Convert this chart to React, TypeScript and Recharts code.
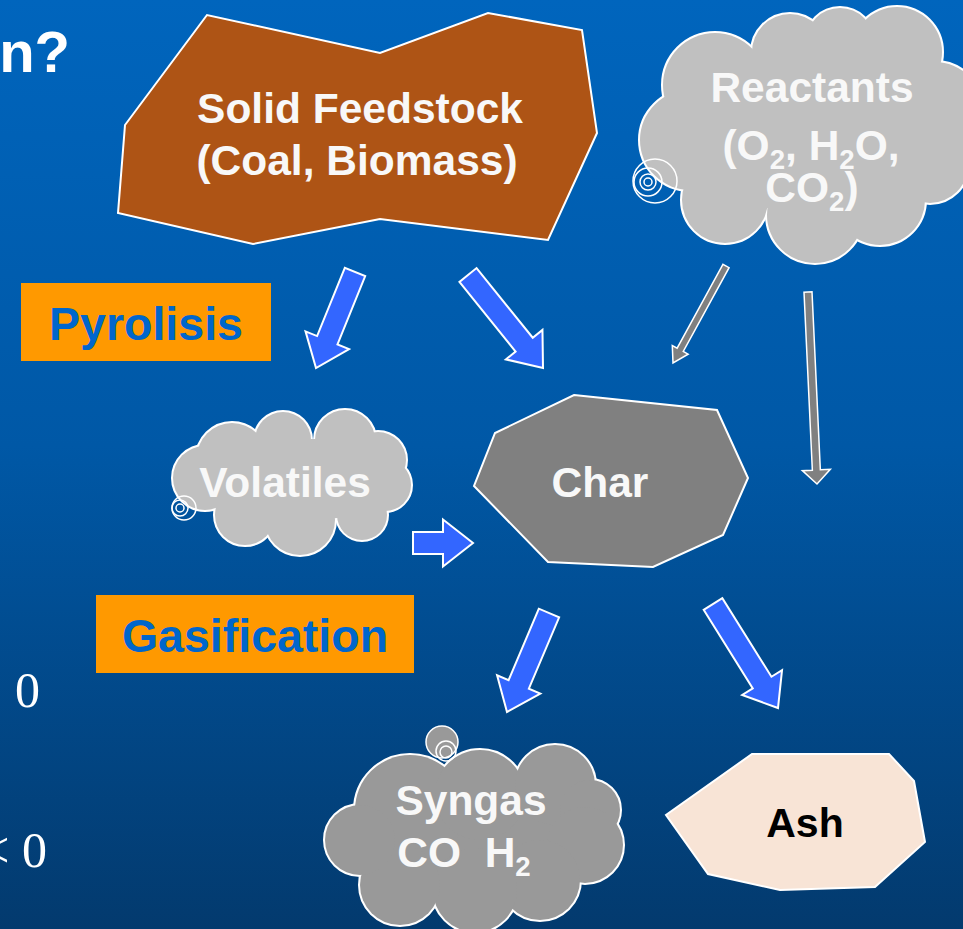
import React from "react";
import { ScatterChart, Scatter, XAxis, YAxis, ReferenceArea } from "recharts";

const W = 963;
const H = 929;
const SANS = "'Liberation Sans', Arial, Helvetica, sans-serif";
const SERIF = "'Liberation Serif', 'Times New Roman', serif";

// outlines of the flat nodes, in picture units
const feedstockOutline = [[207, 15], [125, 125], [118, 213], [253, 244], [380, 219], [548, 240], [597, 133], [582, 30], [488, 13], [380, 53]];
const charOutline = [[574, 395], [717, 410], [748, 478], [723, 535], [653, 567], [548, 562], [474, 486], [495, 433]];
const ashOutline = [[752, 754], [889, 754], [914, 781], [925, 842], [875, 887], [780, 890], [708, 874], [666, 815]];

// clouds as a ring of bumps: x, y, r (listed round the rim)
const reactantsCloud = [[690, 140, 50], [715, 85, 52], [790, 52, 38], [840, 42, 34], [897, 52, 45], [935, 110, 48], [930, 165, 38], [880, 200, 45], [815, 215, 48], [725, 200, 43]];
const volatilesCloud = [[232, 458, 35], [283, 440, 28], [345, 440, 30], [378, 460, 28], [385, 485, 26], [362, 515, 25], [300, 520, 35], [245, 515, 30], [205, 478, 32]];
const syngasCloud = [[410, 810, 55], [480, 795, 45], [555, 785, 40], [590, 810, 30], [585, 845, 38], [540, 880, 40], [475, 890, 42], [400, 885, 40], [360, 840, 35]];

const reactantsBubbles = [[655, 181, 22], [648, 182, 14], [648, 182, 8], [648, 182, 4]];
const volatilesBubbles = [[184, 508, 12], [180, 508, 8], [180, 508, 4]];
const syngasBubbles = [[442, 742, 16], [446, 751, 10], [446, 752, 6]];

// arrows: tail -> tip
const blueArrows = [
  [[355, 272], [316, 368]],
  [[468, 275], [543, 368]],
  [[413, 543], [473, 543]],
  [[549, 613], [507, 712]],
  [[713, 604], [778, 708]],
];
const grayArrows = [
  [[726, 266], [673, 363]],
  [[808, 292], [817, 484]],
];

const stageBoxes = [
  [21, 283, 271, 361],
  [96, 595, 414, 673],
];

// labels: x, baseline y, text ("_2" = subscript)
const nodeLabels = [
  { x: 360, y: 123, text: "Solid Feedstock" },
  { x: 357, y: 175, text: "(Coal, Biomass)" },
  { x: 812, y: 102, text: "Reactants" },
  { x: 811, y: 160, text: "(O_2, H_2O," },
  { x: 812, y: 202, text: "CO_2)" },
  { x: 285, y: 497, text: "Volatiles" },
  { x: 600, y: 497, text: "Char" },
  { x: 471, y: 815, text: "Syngas" },
  { x: 464, y: 867, text: "CO\u00a0\u00a0H_2" },
];
const stageLabels = [
  { x: 146, y: 340, text: "Pyrolisis" },
  { x: 255, y: 652, text: "Gasification" },
];
const ashLabels = [{ x: 805, y: 837, text: "Ash" }];

const toPts = (arr: number[][]) => arr.map(([x, y]) => ({ x, y }));
const toCircles = (arr: number[][]) => arr.map(([x, y, r]) => ({ x, y, r }));

const closedPath = (pts: { x: number; y: number }[]) =>
  pts.map((p, i) => `${i ? "L" : "M"}${p.x},${p.y}`).join("") + "Z";

function arrowPath(a: any, b: any, sw: number, hw: number, hl: number) {
  const dx = b.x - a.x;
  const dy = b.y - a.y;
  const L = Math.hypot(dx, dy);
  const ux = dx / L;
  const uy = dy / L;
  const nx = -uy;
  const ny = ux;
  const bx = b.x - ux * hl;
  const by = b.y - uy * hl;
  const p = [
    [a.x + nx * sw, a.y + ny * sw],
    [bx + nx * sw, by + ny * sw],
    [bx + nx * hw, by + ny * hw],
    [b.x, b.y],
    [bx - nx * hw, by - ny * hw],
    [bx - nx * sw, by - ny * sw],
    [a.x - nx * sw, a.y - ny * sw],
  ];
  return "M" + p.map((q) => q.join(",")).join("L") + "Z";
}

function rich(str: string, sub: number) {
  const parts = str.split(/(_\d)/).filter((s) => s !== "");
  let down = false;
  return parts.map((s, i) => {
    if (s.startsWith("_")) {
      down = true;
      return (
        <tspan key={i} fontSize={sub} dy={9}>
          {s.slice(1)}
        </tspan>
      );
    }
    const dy = down ? -9 : 0;
    down = false;
    return (
      <tspan key={i} dy={dy}>
        {s}
      </tspan>
    );
  });
}

const hidden = () => <g />;

function labelShape(size: number, color: string) {
  return (p: any) => (
    <text
      x={p.cx}
      y={p.cy}
      textAnchor="middle"
      fontFamily={SANS}
      fontWeight="bold"
      fontSize={size}
      fill={color}
    >
      {rich(p.payload.text, size * 0.65)}
    </text>
  );
}

// a cloud: white rim under every bump, then the bumps and the ring between their centres filled on top
function cloudScatter(id: string, data: number[][], fill: string) {
  return (
    <Scatter
      key={id}
      data={toPts(data)}
      isAnimationActive={false}
      shape={hidden}
      line={(lp: any) => (
        <g>
          {lp.points.map((p: any, i: number) => (
            <circle key={"e" + i} cx={p.x} cy={p.y} r={data[i][2]} fill={fill} stroke="#ffffff" strokeWidth={4} />
          ))}
          <path d={closedPath(lp.points)} fill={fill} stroke={fill} strokeWidth={2} />
          {lp.points.map((p: any, i: number) => (
            <circle key={"f" + i} cx={p.x} cy={p.y} r={data[i][2]} fill={fill} />
          ))}
        </g>
      )}
    />
  );
}

function bubbleScatter(id: string, data: number[][], fill: string) {
  return (
    <Scatter
      key={id}
      data={toCircles(data)}
      isAnimationActive={false}
      shape={(p: any) => (
        <circle
          cx={p.cx}
          cy={p.cy}
          r={p.payload.r}
          fill={p.index === 0 ? fill : "none"}
          stroke="#ffffff"
          strokeWidth={1.5}
        />
      )}
    />
  );
}

function polygonScatter(id: string, outline: number[][], fill: string) {
  return (
    <Scatter
      key={id}
      data={toPts(outline)}
      isAnimationActive={false}
      shape={hidden}
      line={(lp: any) => <path d={closedPath(lp.points)} fill={fill} stroke="#ffffff" strokeWidth={2} />}
    />
  );
}

function arrowScatter(id: string, seg: number[][], fill: string, sw: number, hw: number, hl: number, strokeW: number) {
  return (
    <Scatter
      key={id}
      data={toPts(seg)}
      isAnimationActive={false}
      shape={hidden}
      line={(lp: any) => (
        <path
          d={arrowPath(lp.points[0], lp.points[1], sw, hw, hl)}
          fill={fill}
          stroke="#ffffff"
          strokeWidth={strokeW}
          strokeLinejoin="miter"
        />
      )}
    />
  );
}

export default function App() {
  return (
    <div
      style={{
        position: "absolute",
        left: 0,
        top: 0,
        width: W,
        height: H,
        overflow: "hidden",
        background: "linear-gradient(to bottom, #0065bd 0%, #0058a6 48%, #033a6e 100%)",
      }}
    >
      <ScatterChart width={W} height={H} margin={{ top: 0, right: 0, bottom: 0, left: 0 }}>
        <XAxis type="number" dataKey="x" domain={[0, W]} hide allowDataOverflow />
        <YAxis type="number" dataKey="y" domain={[0, H]} reversed hide allowDataOverflow />

        {stageBoxes.map(([x1, y1, x2, y2], i) => (
          <ReferenceArea key={"box" + i} x1={x1} x2={x2} y1={y1} y2={y2} fill="#ff9900" fillOpacity={1} stroke="none" />
        ))}

        {polygonScatter("feed", feedstockOutline, "#ae5415")}
        {polygonScatter("char", charOutline, "#808080")}
        {polygonScatter("ash", ashOutline, "#f8e4d6")}

        {cloudScatter("react", reactantsCloud, "#c0c0c0")}
        {cloudScatter("vol", volatilesCloud, "#c0c0c0")}
        {cloudScatter("syn", syngasCloud, "#999999")}

        {bubbleScatter("rb", reactantsBubbles, "none")}
        {bubbleScatter("vb", volatilesBubbles, "none")}
        {bubbleScatter("sb", syngasBubbles, "#999999")}

        {blueArrows.map((s, i) => arrowScatter("ba" + i, s, "#3366ff", 11, 23.5, 30, 2))}
        {arrowScatter("ga0", grayArrows[0], "#808080", 3.5, 9, 15, 1.5)}
        {arrowScatter("ga1", grayArrows[1], "#808080", 4, 14, 14, 1.5)}

        <Scatter data={nodeLabels} isAnimationActive={false} shape={labelShape(42.5, "#f8f8f8")} />
        <Scatter data={stageLabels} isAnimationActive={false} shape={labelShape(46.5, "#0066cc")} />
        <Scatter data={ashLabels} isAnimationActive={false} shape={labelShape(41, "#000000")} />

        <Scatter
          data={[{ x: 70, y: 72, text: "n?" }]}
          isAnimationActive={false}
          shape={(p: any) => (
            <text x={p.cx} y={p.cy} textAnchor="end" fontFamily={SANS} fontWeight="bold" fontSize={58} fill="#ffffff">
              {p.payload.text}
            </text>
          )}
        />
        <Scatter
          data={[
            { x: 15, y: 707, text: "0", anchor: "start" },
            { x: 47, y: 867, text: "< 0", anchor: "end" },
          ]}
          isAnimationActive={false}
          shape={(p: any) => (
            <text x={p.cx} y={p.cy} textAnchor={p.payload.anchor} fontFamily={SERIF} fontSize={50} fill="#ffffff">
              {p.payload.text}
            </text>
          )}
        />
      </ScatterChart>
    </div>
  );
}
